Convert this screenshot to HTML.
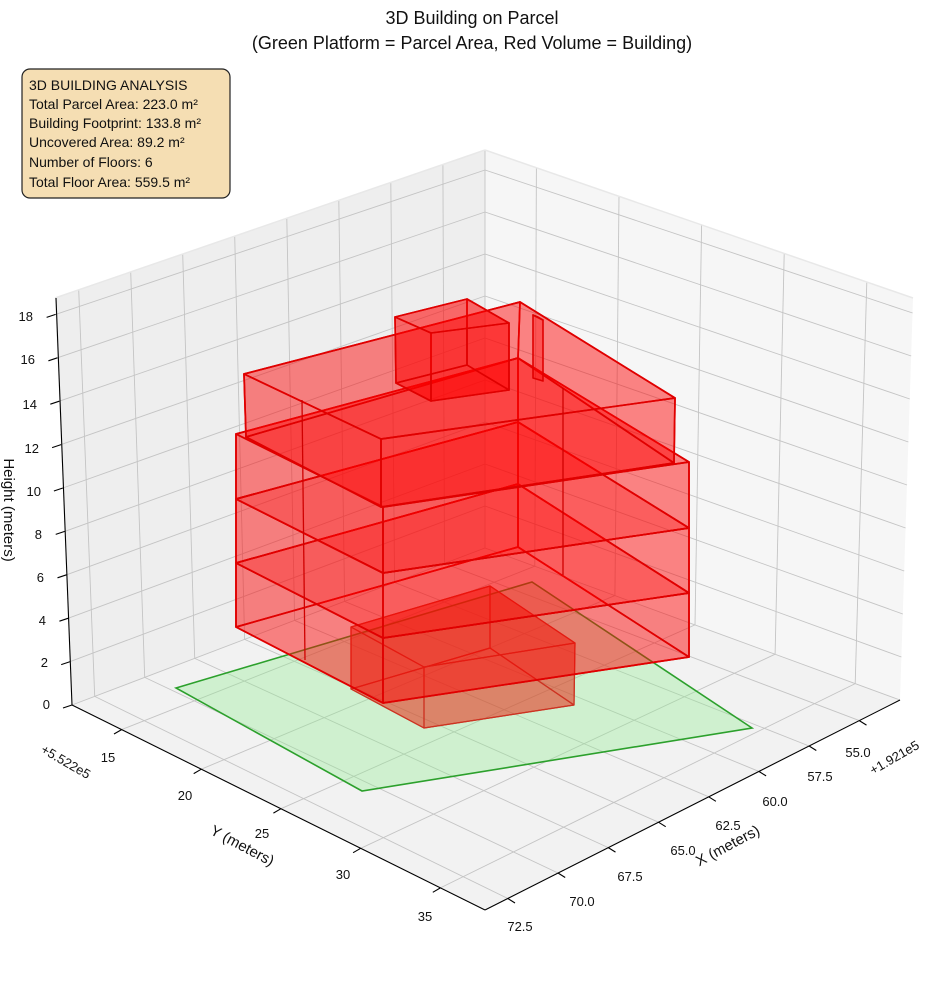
<!DOCTYPE html>
<html><head><meta charset="utf-8"><style>
body{margin:0;background:#fff}
svg{display:block;font-family:"Liberation Sans","Noto Sans CJK SC",sans-serif}
</style></head><body>
<svg width="944" height="992" viewBox="0 0 944 992" xmlns="http://www.w3.org/2000/svg">
<rect width="944" height="992" fill="#fff"/>
<text x="472" y="24" font-size="18" text-anchor="middle" fill="#111">3D Building on Parcel</text>
<text x="472" y="49" font-size="18" text-anchor="middle" fill="#111">(Green Platform = Parcel Area, Red Volume = Building)</text>

<polygon points="55,298 485,150 485,548 72,705" fill="#eeeeee"/>
<polygon points="485,150 913,298 900,700 485,548" fill="#f6f6f6"/>
<polygon points="72,705 485,548 900,700 485,910" fill="#f2f2f2"/>

<g stroke="#c4c4c4" stroke-width="0.9" fill="none">
<line x1="94.7" y1="696.4" x2="78.7" y2="289.9"/>
<line x1="144.7" y1="677.4" x2="130.7" y2="272"/>
<line x1="194.7" y1="658.4" x2="182.7" y2="254"/>
<line x1="244.6" y1="639.4" x2="234.7" y2="236.1"/>
<line x1="294.6" y1="620.4" x2="286.8" y2="218.2"/>
<line x1="344.6" y1="601.4" x2="338.8" y2="200.3"/>
<line x1="394.6" y1="582.4" x2="390.8" y2="182.4"/>
<line x1="444.5" y1="563.4" x2="442.9" y2="164.5"/>
<line x1="72" y1="705" x2="485" y2="548"/>
<line x1="70.2" y1="661.6" x2="485" y2="506"/>
<line x1="68.4" y1="618.2" x2="485" y2="464"/>
<line x1="66.5" y1="574.8" x2="485" y2="422"/>
<line x1="64.7" y1="531.4" x2="485" y2="380"/>
<line x1="62.9" y1="488" x2="485" y2="338"/>
<line x1="61.1" y1="444.6" x2="485" y2="296"/>
<line x1="59.3" y1="401.2" x2="485" y2="254"/>
<line x1="57.4" y1="357.8" x2="485" y2="212"/>
<line x1="55.6" y1="314.4" x2="485" y2="170"/>
<line x1="534.8" y1="566.2" x2="536.4" y2="167.8"/>
<line x1="614.9" y1="595.6" x2="619" y2="196.3"/>
<line x1="695" y1="624.9" x2="701.6" y2="224.9"/>
<line x1="775.1" y1="654.2" x2="784.2" y2="253.5"/>
<line x1="855.2" y1="683.6" x2="866.8" y2="282"/>
<line x1="485" y1="548" x2="900" y2="700"/>
<line x1="485" y1="506" x2="901.4" y2="657"/>
<line x1="485" y1="464" x2="902.8" y2="614"/>
<line x1="485" y1="422" x2="904.2" y2="571"/>
<line x1="485" y1="380" x2="905.6" y2="528"/>
<line x1="485" y1="338" x2="907" y2="485"/>
<line x1="485" y1="296" x2="908.4" y2="442"/>
<line x1="485" y1="254" x2="909.8" y2="399"/>
<line x1="485" y1="212" x2="911.2" y2="356"/>
<line x1="485" y1="170" x2="912.6" y2="313"/>
<line x1="485" y1="150" x2="485" y2="548"/>
<line x1="94.7" y1="696.4" x2="507.8" y2="898.5"/>
<line x1="144.7" y1="677.4" x2="558" y2="873"/>
<line x1="194.7" y1="658.4" x2="608.3" y2="847.6"/>
<line x1="244.6" y1="639.4" x2="658.5" y2="822.2"/>
<line x1="294.6" y1="620.4" x2="708.7" y2="796.8"/>
<line x1="344.6" y1="601.4" x2="758.9" y2="771.4"/>
<line x1="394.6" y1="582.4" x2="809.1" y2="746"/>
<line x1="444.5" y1="563.4" x2="859.3" y2="720.6"/>
<line x1="121.6" y1="729.6" x2="534.8" y2="566.2"/>
<line x1="201.3" y1="769.2" x2="614.9" y2="595.6"/>
<line x1="281" y1="808.7" x2="695" y2="624.9"/>
<line x1="360.7" y1="848.3" x2="775.1" y2="654.2"/>
<line x1="440.4" y1="887.9" x2="855.2" y2="683.6"/>
</g>
<g stroke="#e8e8e8" stroke-width="1.5" fill="none">
<line x1="55" y1="298" x2="485" y2="150"/>
<line x1="485" y1="150" x2="913" y2="298"/>
</g>

<g stroke="#000" stroke-width="1.1" fill="none">
<line x1="56" y1="298" x2="72" y2="705"/>
<line x1="72" y1="705" x2="485" y2="910"/>
<line x1="485" y1="910" x2="900" y2="700"/>
<line x1="72" y1="705" x2="63" y2="708"/>
<line x1="70.2" y1="661.6" x2="61.2" y2="664.6"/>
<line x1="68.4" y1="618.2" x2="59.4" y2="621.2"/>
<line x1="66.5" y1="574.8" x2="57.5" y2="577.8"/>
<line x1="64.7" y1="531.4" x2="55.7" y2="534.4"/>
<line x1="62.9" y1="488" x2="53.9" y2="491"/>
<line x1="61.1" y1="444.6" x2="52.1" y2="447.6"/>
<line x1="59.3" y1="401.2" x2="50.3" y2="404.2"/>
<line x1="57.4" y1="357.8" x2="48.4" y2="360.8"/>
<line x1="55.6" y1="314.4" x2="46.6" y2="317.4"/>
<line x1="121.6" y1="729.6" x2="114" y2="734"/>
<line x1="201.3" y1="769.2" x2="193.7" y2="773.6"/>
<line x1="281" y1="808.7" x2="273.4" y2="813.1"/>
<line x1="360.7" y1="848.3" x2="353.1" y2="852.7"/>
<line x1="440.4" y1="887.9" x2="432.8" y2="892.3"/>
<line x1="507.8" y1="898.5" x2="515" y2="903"/>
<line x1="558" y1="873" x2="565.2" y2="877.5"/>
<line x1="608.3" y1="847.6" x2="615.5" y2="852.1"/>
<line x1="658.5" y1="822.2" x2="665.7" y2="826.7"/>
<line x1="708.7" y1="796.8" x2="715.9" y2="801.3"/>
<line x1="758.9" y1="771.4" x2="766.1" y2="775.9"/>
<line x1="809.1" y1="746" x2="816.3" y2="750.5"/>
<line x1="859.3" y1="720.6" x2="866.5" y2="725.1"/>
</g>

<g font-size="13" fill="#111">
<g text-anchor="end">
<text x="50" y="709">0</text><text x="48" y="667">2</text><text x="46" y="625">4</text>
<text x="44" y="582">6</text><text x="42" y="539">8</text><text x="41" y="496">10</text>
<text x="39" y="453">12</text><text x="37" y="409">14</text><text x="35" y="364">16</text>
<text x="33" y="321">18</text>
</g>
<g text-anchor="middle">
<text x="108" y="762">15</text><text x="185" y="800">20</text><text x="262" y="838">25</text>
<text x="343" y="879">30</text><text x="425" y="921">35</text>
<text x="858" y="757">55.0</text><text x="820" y="781">57.5</text><text x="775" y="806">60.0</text>
<text x="728" y="830">62.5</text><text x="683" y="855">65.0</text><text x="630" y="881">67.5</text>
<text x="582" y="906">70.0</text><text x="520" y="931">72.5</text>
</g>
<text x="40" y="752" transform="rotate(30 40 752)">+5.522e5</text>
<text x="873" y="775" transform="rotate(-30 873 775)">+1.921e5</text>
</g>
<g font-size="15" fill="#111" text-anchor="middle">
<text x="240" y="850" transform="rotate(28 240 850)">Y (meters)</text>
<text x="730" y="850" transform="rotate(-28 730 850)">X (meters)</text>
<text x="4" y="510" transform="rotate(90 4 510)">Height (meters)</text>
</g>

<polygon points="176,688 532,582 752,728 362,791" fill="rgba(144,238,144,0.35)" stroke="#2ca02c" stroke-width="1.6"/>

<g fill="rgba(230,40,20,0.32)" stroke="#cc3322" stroke-width="1.2" stroke-linejoin="round">
<polygon points="351,689 424,728 574,705 490,648"/>
<polygon points="351,689 424,728 424,667 351,627"/>
<polygon points="424,728 574,705 575,643 424,667"/>
<polygon points="574,705 490,648 490,586 575,643"/>
<polygon points="490,648 351,689 351,627 490,586"/>
<polygon points="351,627 424,667 575,643 490,586"/>
</g>

<g fill="rgba(255,0,0,0.27)" stroke="#e00000" stroke-width="1.7" stroke-linejoin="round">
<polygon points="236,627 383,703 689,657 518,547"/>
<polygon points="236,627 383,703 383,638 236,563"/><polygon points="383,703 689,657 689,593 383,638"/>
<polygon points="689,657 518,547 518,484 689,593"/><polygon points="518,547 236,627 236,563 518,484"/>
<polygon points="236,563 383,638 689,593 518,484"/>
<polygon points="236,563 383,638 383,573 236,499"/><polygon points="383,638 689,593 689,528 383,573"/>
<polygon points="689,593 518,484 518,422 689,528"/><polygon points="518,484 236,563 236,499 518,422"/>
<polygon points="236,499 383,573 689,528 518,422"/>
<polygon points="236,499 383,573 383,507 236,434"/><polygon points="383,573 689,528 689,462 383,507"/>
<polygon points="689,528 518,422 518,358 689,462"/><polygon points="518,422 236,499 236,434 518,358"/>
<polygon points="236,434 383,507 689,462 518,358"/>
<polygon points="246,437 381,507 674,463 518,358"/>
<polygon points="246,437 381,507 381,439 244,374"/><polygon points="381,507 674,463 675,398 381,439"/>
<polygon points="674,463 518,358 520,302 675,398"/><polygon points="518,358 246,437 244,374 520,302"/>
<polygon points="244,374 381,439 675,398 520,302"/>
</g>
<g stroke="#d00000" stroke-width="1.3">
<line x1="302" y1="400" x2="305" y2="660"/>
<line x1="563" y1="388" x2="563" y2="575"/>
</g>
<g fill="rgba(255,0,0,0.34)" stroke="#e00000" stroke-width="1.6" stroke-linejoin="round">
<polygon points="396,383 431,401 509,390 467,365"/>
<polygon points="396,383 431,401 431,333 395,317"/><polygon points="431,401 509,390 509,323 431,333"/>
<polygon points="509,390 467,365 467,299 509,323"/><polygon points="467,365 396,383 395,317 467,299"/>
<polygon points="395,317 431,333 509,323 467,299"/>
<polygon points="533,378 543,381 543,320 533,315"/>
<polygon points="533,315 543,320 538,317"/>
</g>

<rect x="22" y="69" width="208" height="129" rx="8" fill="#f5deb3" stroke="#222" stroke-width="1.2"/>
<g font-size="14" fill="#111">
<text x="29" y="90">3D BUILDING ANALYSIS</text>
<text x="29" y="109">Total Parcel Area: 223.0 m²</text>
<text x="29" y="128">Building Footprint: 133.8 m²</text>
<text x="29" y="147">Uncovered Area: 89.2 m²</text>
<text x="29" y="167">Number of Floors: 6</text>
<text x="29" y="187">Total Floor Area: 559.5 m²</text>
</g>
</svg>
</body></html>
